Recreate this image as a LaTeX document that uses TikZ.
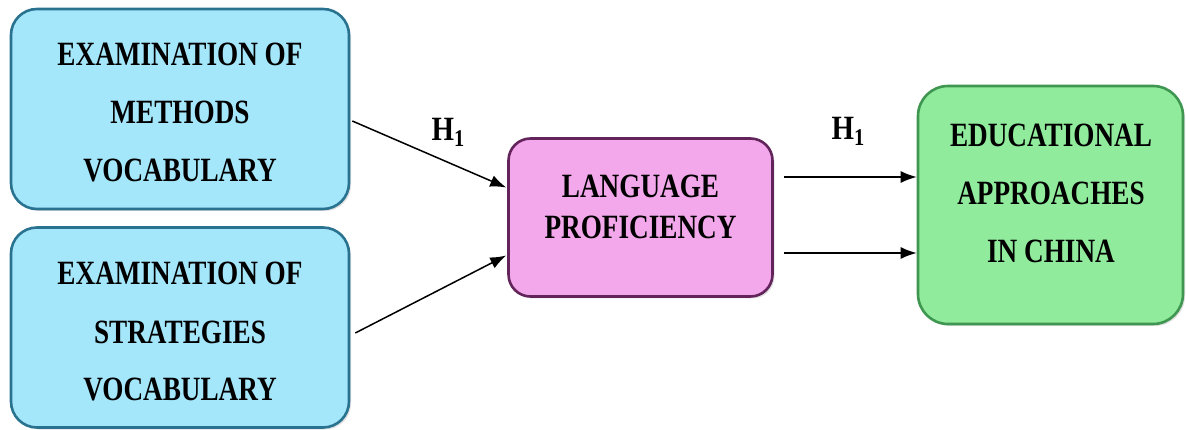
\documentclass[tikz,border=0pt]{standalone}
\usepackage{fontspec}
\setmainfont{Liberation Serif}
\usetikzlibrary{arrows.meta,calc,shadows}

\definecolor{bluefill}{HTML}{A4E6FA}
\definecolor{blueedge}{HTML}{2A7390}
\definecolor{pinkfill}{HTML}{F2A8EA}
\definecolor{pinkedge}{HTML}{62245A}
\definecolor{greenfill}{HTML}{90EC9C}
\definecolor{greenedge}{HTML}{3E9650}

\tikzset{
  box/.style={rectangle, rounded corners=#1, inner sep=0pt, line width=2.6pt,
    drop shadow={shadow xshift=2pt, shadow yshift=-2pt, opacity=0.25}},
  bluebox/.style={box=26pt, draw=blueedge, fill=bluefill,
    minimum width=338pt, minimum height=200pt},
  pinkbox/.style={box=22pt, draw=pinkedge, fill=pinkfill,
    minimum width=264pt, minimum height=158pt},
  greenbox/.style={box=30pt, draw=greenedge, fill=greenfill,
    minimum width=265pt, minimum height=238pt},
  % condensed bold serif lettering
  boxtext/.style={align=center, inner sep=0pt, xscale=0.8, transform shape,
    font=\bfseries\fontsize{34}{58}\selectfont},
  arr/.style={line width=1.5pt, -{Latex[length=16pt,width=12pt]}},
  hyp/.style={inner sep=0pt, xscale=0.85, transform shape,
    font=\bfseries\fontsize{34}{34}\selectfont}
}

\begin{document}
\begin{tikzpicture}[x=1pt,y=-1pt]
\useasboundingbox (0,0) rectangle (1186,430);

% boxes
\node[bluebox]  (methods)    at (180,109)    {};
\node[bluebox]  (strategies) at (180,327.5)  {};
\node[pinkbox]  (prof)       at (640.5,217.5){};
\node[greenbox] (china)      at (1050.5,205) {};

% box texts
\node[boxtext] (methodsT) at (180,112.5)
  {EXAMINATION OF\\METHODS\\VOCABULARY};
\node[boxtext] (strategiesT) at (180,332)
  {EXAMINATION OF\\STRATEGIES\\VOCABULARY};
\node[boxtext, font=\bfseries\fontsize{34}{41}\selectfont] (profT) at (640.5,207)
  {LANGUAGE\\PROFICIENCY};
\node[boxtext] (chinaT) at (1051,193)
  {EDUCATIONAL\\APPROACHES\\IN CHINA};

% connectors
\coordinate (a1s) at ([shift={(2,12)}]methods.east);
\coordinate (a1e) at ([shift={(-1,-30)}]prof.west);
\coordinate (a2s) at ([shift={(5,5.5)}]strategies.east);
\coordinate (a2e) at ([shift={(-1,38)}]prof.west);
\coordinate (b1s) at ([shift={(10,-40.5)}]prof.east);
\coordinate (b2s) at ([shift={(10,35.5)}]prof.east);

\draw[arr] (a1s) -- (a1e);
\draw[arr] (a2s) -- (a2e);
\draw[arr] (b1s) -- (b1s -| china.west);
\draw[arr] (b2s) -- (b2s -| china.west);

% hypothesis labels
\node[hyp] (h1a) at (448,132) {H\raisebox{-6pt}{\fontsize{24}{24}\selectfont 1}};
\node[hyp] (h1b) at (848,131) {H\raisebox{-6pt}{\fontsize{24}{24}\selectfont 1}};
\end{tikzpicture}
\end{document}
